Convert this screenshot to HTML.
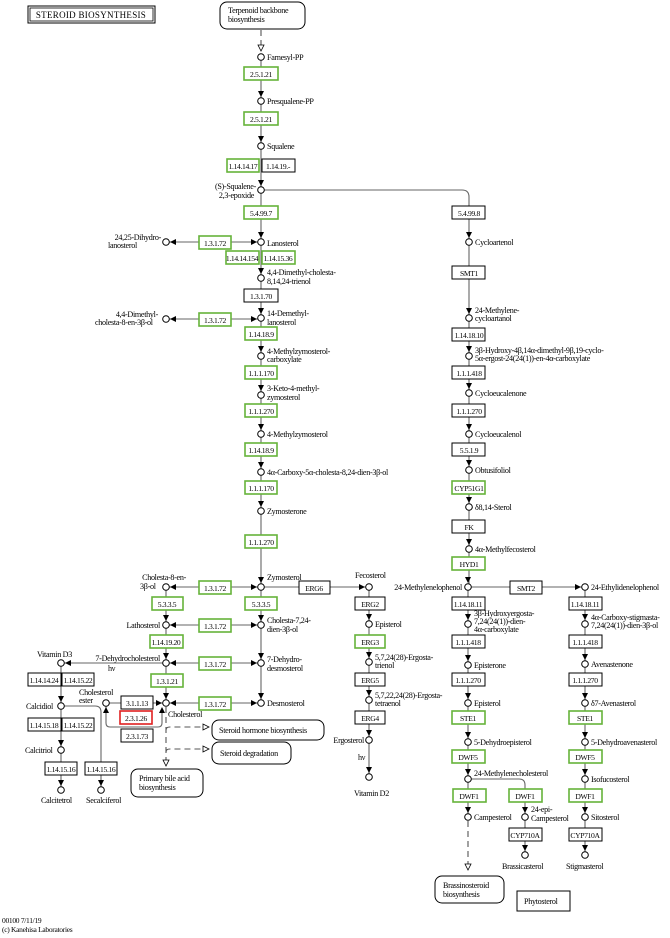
<!DOCTYPE html>
<html><head><meta charset="utf-8"><style>
html,body{margin:0;padding:0;background:#fff;}
svg{display:block}
text{font-family:"Liberation Serif",serif;font-size:8.1px;fill:#000;letter-spacing:-0.3px}
text.m{font-size:7.6px;letter-spacing:-0.35px;text-anchor:middle}
.b{fill:#fff;stroke:#000;stroke-width:1}
.g{fill:#fff;stroke:#66b33a;stroke-width:1.6}
.r{fill:#fff;stroke:#e02020;stroke-width:1.6}
.l{stroke:#666;stroke-width:1.1;fill:none}
.d{stroke:#555;stroke-width:1.1;fill:none;stroke-dasharray:6,4}
.c{fill:#fff;stroke:#000;stroke-width:1}
.rt{text-anchor:end}
</style></head><body>
<svg width="670" height="938" viewBox="0 0 670 938">
<defs>
<path id="td" d="M-3,-10 L3,-10 L0,-4Z" fill="#000"/>
<path id="tu" d="M-3,10 L3,10 L0,4Z" fill="#000"/>
<path id="tl" d="M10,-3 L10,3 L4,0Z" fill="#000"/>
<path id="tr" d="M-10,-3 L-10,3 L-4,0Z" fill="#000"/>
</defs>

<rect x="28" y="6" width="127" height="17" fill="#fff" stroke="#000" stroke-width="1"/>
<rect x="30" y="8" width="123" height="13" fill="none" stroke="#000" stroke-width="0.8"/>
<text x="91" y="18" style="font-size:9px;letter-spacing:0.3px;text-anchor:middle">STEROID BIOSYNTHESIS</text>
<rect x="220" y="2" width="85" height="27" rx="7" fill="#fff" stroke="#000"/>
<text x="228" y="13">Terpenoid backbone</text><text x="228" y="22">biosynthesis</text>

<path class="d" d="M261,30 V46"/>
<path d="M258,45 L264,45 L261,51Z" fill="#fff" stroke="#000" stroke-width="0.8"/>
<path class="l" d="M261,54 V703"/>
<path class="l" d="M261,190 H462 Q469,190 469,197 V470"/>
<path class="l" d="M469,470 V587"/>
<path class="l" d="M166,242 H261 M166,319 H261"/>
<path class="l" d="M166,587 H369 M166,625 H261 M166,663 H261 M166,703 H261 M61,663 H166"/>
<path class="l" d="M166,587 V703"/>
<path class="l" d="M106,703 H166 M106,706 V723 Q106,727 110,727 H158 Q162,727 162,723 V708"/>
<path class="l" d="M61,663 V790 M61,706 H95 Q101,706 101,712 V790"/>
<path class="l" d="M369,587 V777 M468,587 H585 M468,587 V817 M585,587 V855"/>
<path class="l" d="M468,779 H519 Q525,779 525,785 V855"/>
<path class="d" d="M468,821 V866 M166,707 V762"/>
<path d="M465,864 L471,864 L468,870Z" fill="#fff" stroke="#000" stroke-width="0.8"/>
<path d="M163,760 L169,760 L166,766Z" fill="#fff" stroke="#000" stroke-width="0.8"/>
<path class="d" d="M166,730 Q166,727 170,727 H204 M166,752 Q166,749 170,749 H204"/>
<path d="M203,724 L203,730 L209,727Z M203,746 L203,752 L209,749Z" fill="#fff" stroke="#000" stroke-width="0.8"/>

<g>
<use href="#td" x="261" y="101"/><use href="#td" x="261" y="146"/><use href="#td" x="261" y="190"/><use href="#td" x="261" y="242"/><use href="#td" x="261" y="278"/><use href="#td" x="261" y="318"/><use href="#td" x="261" y="356"/><use href="#td" x="261" y="395"/><use href="#td" x="261" y="434"/><use href="#td" x="261" y="472"/><use href="#td" x="261" y="511"/><use href="#td" x="261" y="587"/><use href="#td" x="261" y="625"/><use href="#td" x="261" y="663"/><use href="#td" x="261" y="703"/>
<use href="#tr" x="261" y="242"/><use href="#tl" x="166" y="242"/><use href="#tr" x="261" y="319"/><use href="#tl" x="166" y="319"/>
<use href="#tl" x="166" y="587"/><use href="#tr" x="261" y="587"/><use href="#tl" x="166" y="625"/><use href="#tr" x="261" y="625"/><use href="#tl" x="166" y="663"/><use href="#tr" x="261" y="663"/><use href="#tl" x="166" y="703"/><use href="#tr" x="261" y="703"/>
<use href="#td" x="166" y="625"/><use href="#td" x="166" y="663"/><use href="#td" x="166" y="703"/><use href="#tl" x="61" y="663"/>
<use href="#tr" x="166" y="703"/><use href="#tu" x="106" y="703"/><use href="#tu" x="162" y="703"/>
<use href="#td" x="61" y="706"/><use href="#td" x="61" y="750"/><use href="#td" x="61" y="790"/><use href="#td" x="101" y="790"/>
<use href="#tr" x="369" y="587"/><use href="#td" x="369" y="624"/><use href="#td" x="369" y="662"/><use href="#td" x="369" y="700"/><use href="#td" x="369" y="740"/><use href="#td" x="369" y="777"/>
<use href="#td" x="469" y="242"/><use href="#td" x="469" y="318"/><use href="#td" x="469" y="356"/><use href="#td" x="469" y="393"/><use href="#td" x="469" y="434"/><use href="#td" x="469" y="470"/><use href="#td" x="469" y="507"/><use href="#td" x="469" y="549"/><use href="#td" x="468" y="587"/>
<use href="#td" x="468" y="624"/><use href="#td" x="468" y="665"/><use href="#td" x="468" y="703"/><use href="#td" x="468" y="742"/><use href="#td" x="468" y="779"/><use href="#td" x="468" y="817"/><use href="#td" x="525" y="817"/><use href="#td" x="525" y="855"/>
<use href="#tr" x="585" y="587"/><use href="#td" x="585" y="624"/><use href="#td" x="585" y="664"/><use href="#td" x="585" y="703"/><use href="#td" x="585" y="742"/><use href="#td" x="585" y="779"/><use href="#td" x="585" y="817"/><use href="#td" x="585" y="855"/>
</g>

<g class="c">
<circle cx="261" cy="57" r="3.3"/><circle cx="261" cy="101" r="3.3"/><circle cx="261" cy="146" r="3.3"/><circle cx="261" cy="190" r="3.3"/><circle cx="261" cy="242" r="3.3"/><circle cx="261" cy="278" r="3.3"/><circle cx="261" cy="318" r="3.3"/><circle cx="261" cy="356" r="3.3"/><circle cx="261" cy="395" r="3.3"/><circle cx="261" cy="434" r="3.3"/><circle cx="261" cy="472" r="3.3"/><circle cx="261" cy="511" r="3.3"/><circle cx="261" cy="587" r="3.3"/><circle cx="261" cy="625" r="3.3"/><circle cx="261" cy="663" r="3.3"/><circle cx="261" cy="703" r="3.3"/>
<circle cx="166" cy="242" r="3.3"/><circle cx="166" cy="319" r="3.3"/>
<circle cx="166" cy="587" r="3.3"/><circle cx="166" cy="625" r="3.3"/><circle cx="166" cy="663" r="3.3"/><circle cx="166" cy="703" r="3.3"/><circle cx="106" cy="703" r="3.3"/><circle cx="61" cy="663" r="3.3"/><circle cx="61" cy="706" r="3.3"/><circle cx="61" cy="750" r="3.3"/><circle cx="61" cy="790" r="3.3"/><circle cx="101" cy="790" r="3.3"/>
<circle cx="369" cy="587" r="3.3"/><circle cx="369" cy="624" r="3.3"/><circle cx="369" cy="662" r="3.3"/><circle cx="369" cy="700" r="3.3"/><circle cx="369" cy="740" r="3.3"/><circle cx="369" cy="777" r="3.3"/>
<circle cx="469" cy="242" r="3.3"/><circle cx="469" cy="318" r="3.3"/><circle cx="469" cy="356" r="3.3"/><circle cx="469" cy="393" r="3.3"/><circle cx="469" cy="434" r="3.3"/><circle cx="469" cy="470" r="3.3"/><circle cx="469" cy="507" r="3.3"/><circle cx="469" cy="549" r="3.3"/><circle cx="468" cy="587" r="3.3"/>
<circle cx="468" cy="624" r="3.3"/><circle cx="468" cy="665" r="3.3"/><circle cx="468" cy="703" r="3.3"/><circle cx="468" cy="742" r="3.3"/><circle cx="468" cy="779" r="3.3"/><circle cx="468" cy="817" r="3.3"/><circle cx="525" cy="817" r="3.3"/><circle cx="525" cy="855" r="3.3"/>
<circle cx="585" cy="587" r="3.3"/><circle cx="585" cy="624" r="3.3"/><circle cx="585" cy="664" r="3.3"/><circle cx="585" cy="703" r="3.3"/><circle cx="585" cy="742" r="3.3"/><circle cx="585" cy="779" r="3.3"/><circle cx="585" cy="817" r="3.3"/><circle cx="585" cy="855" r="3.3"/>
</g>

<g>
<rect class="g" x="244" y="67" width="34" height="13"/><text class="m" x="261" y="77">2.5.1.21</text>
<rect class="g" x="244" y="112" width="34" height="13"/><text class="m" x="261" y="122">2.5.1.21</text>
<rect class="g" x="227" y="159" width="32" height="13"/><text class="m" x="243" y="169">1.14.14.17</text>
<rect class="b" x="262" y="159" width="33" height="13"/><text class="m" x="278" y="169">1.14.19.-</text>
<rect class="g" x="244" y="206" width="34" height="13"/><text class="m" x="261" y="216">5.4.99.7</text>
<rect class="g" x="199" y="236" width="32" height="13"/><text class="m" x="215" y="246">1.3.1.72</text>
<rect class="g" x="226" y="251" width="33" height="13"/><text class="m" x="242" y="261">1.14.14.154</text>
<rect class="g" x="262" y="251" width="33" height="13"/><text class="m" x="278" y="261">1.14.15.36</text>
<rect class="b" x="244" y="289" width="34" height="13"/><text class="m" x="261" y="299">1.3.1.70</text>
<rect class="g" x="199" y="313" width="32" height="13"/><text class="m" x="215" y="323">1.3.1.72</text>
<rect class="g" x="245" y="327" width="32" height="13"/><text class="m" x="261" y="337">1.14.18.9</text>
<rect class="g" x="245" y="366" width="32" height="13"/><text class="m" x="261" y="376">1.1.1.170</text>
<rect class="g" x="245" y="404" width="32" height="13"/><text class="m" x="261" y="414">1.1.1.270</text>
<rect class="g" x="245" y="443" width="32" height="13"/><text class="m" x="261" y="453">1.14.18.9</text>
<rect class="g" x="245" y="481" width="32" height="13"/><text class="m" x="261" y="491">1.1.1.170</text>
<rect class="g" x="245" y="535" width="32" height="13"/><text class="m" x="261" y="545">1.1.1.270</text>

<rect class="g" x="199" y="581" width="32" height="13"/><text class="m" x="215" y="591">1.3.1.72</text>
<rect class="b" x="299" y="581" width="31" height="13"/><text class="m" x="314" y="591">ERG6</text>
<rect class="g" x="152" y="597" width="31" height="13"/><text class="m" x="167" y="607">5.3.3.5</text>
<rect class="g" x="245" y="597" width="32" height="13"/><text class="m" x="261" y="607">5.3.3.5</text>
<rect class="g" x="199" y="619" width="32" height="13"/><text class="m" x="215" y="629">1.3.1.72</text>
<rect class="g" x="150" y="635" width="33" height="13"/><text class="m" x="166" y="645">1.14.19.20</text>
<rect class="g" x="199" y="657" width="32" height="13"/><text class="m" x="215" y="667">1.3.1.72</text>
<rect class="g" x="151" y="674" width="32" height="13"/><text class="m" x="167" y="684">1.3.1.21</text>
<rect class="g" x="199" y="697" width="32" height="13"/><text class="m" x="215" y="707">1.3.1.72</text>
<rect class="b" x="121" y="696" width="32" height="13"/><text class="m" x="137" y="706">3.1.1.13</text>
<rect class="r" x="120" y="711" width="32" height="13"/><text class="m" x="136" y="721">2.3.1.26</text>
<rect class="b" x="121" y="729" width="32" height="13"/><text class="m" x="137" y="739">2.3.1.73</text>
<rect class="b" x="28" y="673" width="33" height="13"/><text class="m" x="44" y="683">1.14.14.24</text>
<rect class="b" x="62" y="673" width="32" height="13"/><text class="m" x="78" y="683">1.14.15.22</text>
<rect class="b" x="28" y="718" width="33" height="13"/><text class="m" x="44" y="728">1.14.15.18</text>
<rect class="b" x="62" y="718" width="32" height="13"/><text class="m" x="78" y="728">1.14.15.22</text>
<rect class="b" x="45" y="762" width="32" height="13"/><text class="m" x="61" y="772">1.14.15.16</text>
<rect class="b" x="85" y="762" width="32" height="13"/><text class="m" x="101" y="772">1.14.15.16</text>

<rect class="b" x="355" y="597" width="30" height="13"/><text class="m" x="370" y="607">ERG2</text>
<rect class="g" x="355" y="635" width="30" height="13"/><text class="m" x="370" y="645">ERG3</text>
<rect class="b" x="355" y="673" width="30" height="13"/><text class="m" x="370" y="683">ERG5</text>
<rect class="b" x="355" y="711" width="30" height="13"/><text class="m" x="370" y="721">ERG4</text>

<rect class="b" x="452" y="206" width="33" height="13"/><text class="m" x="469" y="216">5.4.99.8</text>
<rect class="b" x="452" y="266" width="33" height="13"/><text class="m" x="469" y="276">SMT1</text>
<rect class="b" x="452" y="328" width="33" height="13"/><text class="m" x="469" y="338">1.14.18.10</text>
<rect class="b" x="452" y="366" width="33" height="13"/><text class="m" x="469" y="376">1.1.1.418</text>
<rect class="b" x="452" y="404" width="33" height="13"/><text class="m" x="469" y="414">1.1.1.270</text>
<rect class="b" x="452" y="443" width="33" height="13"/><text class="m" x="469" y="453">5.5.1.9</text>
<rect class="g" x="452" y="481" width="33" height="13"/><text class="m" x="469" y="491">CYP51G1</text>
<rect class="b" x="452" y="520" width="33" height="13"/><text class="m" x="469" y="530">FK</text>
<rect class="g" x="452" y="557" width="33" height="13"/><text class="m" x="469" y="567">HYD1</text>
<rect class="b" x="510" y="581" width="32" height="13"/><text class="m" x="526" y="591">SMT2</text>

<rect class="b" x="452" y="597" width="33" height="13"/><text class="m" x="468" y="607">1.14.18.11</text>
<rect class="b" x="452" y="635" width="33" height="13"/><text class="m" x="468" y="645">1.1.1.418</text>
<rect class="b" x="452" y="673" width="33" height="13"/><text class="m" x="468" y="683">1.1.1.270</text>
<rect class="g" x="452" y="711" width="33" height="13"/><text class="m" x="468" y="721">STE1</text>
<rect class="g" x="452" y="750" width="33" height="13"/><text class="m" x="468" y="760">DWF5</text>
<rect class="g" x="453" y="789" width="33" height="13"/><text class="m" x="469" y="799">DWF1</text>
<rect class="g" x="509" y="789" width="33" height="13"/><text class="m" x="525" y="799">DWF1</text>
<rect class="b" x="509" y="828" width="33" height="13"/><text class="m" x="525" y="838">CYP710A</text>

<rect class="b" x="569" y="597" width="33" height="13"/><text class="m" x="585" y="607">1.14.18.11</text>
<rect class="b" x="569" y="635" width="33" height="13"/><text class="m" x="585" y="645">1.1.1.418</text>
<rect class="b" x="569" y="673" width="33" height="13"/><text class="m" x="585" y="683">1.1.1.270</text>
<rect class="g" x="569" y="711" width="33" height="13"/><text class="m" x="585" y="721">STE1</text>
<rect class="g" x="569" y="750" width="33" height="13"/><text class="m" x="585" y="760">DWF5</text>
<rect class="g" x="569" y="789" width="33" height="13"/><text class="m" x="585" y="799">DWF1</text>
<rect class="b" x="569" y="828" width="33" height="13"/><text class="m" x="585" y="838">CYP710A</text>
</g>

<rect x="212" y="720" width="112" height="20" rx="7" fill="#fff" stroke="#000"/><text x="219" y="733">Steroid hormone biosynthesis</text>
<rect x="212" y="742" width="79" height="22" rx="7" fill="#fff" stroke="#000"/><text x="220" y="756">Steroid degradation</text>
<rect x="131" y="769" width="72" height="28" rx="7" fill="#fff" stroke="#000"/><text x="139" y="781">Primary bile acid</text><text x="139" y="790">biosynthesis</text>
<rect x="435" y="876" width="69" height="27" rx="7" fill="#fff" stroke="#000"/><text x="443" y="888">Brassinosteroid</text><text x="443" y="897">biosynthesis</text>
<rect x="517" y="891" width="53" height="20" fill="#fff" stroke="#000"/><text x="524" y="904">Phytosterol</text>

<g>
<text x="267" y="60">Farnesyl-PP</text>
<text x="267" y="104">Presqualene-PP</text>
<text x="267" y="149">Squalene</text>
<text class="rt" x="256" y="189">(S)-Squalene-</text><text class="rt" x="254" y="198">2,3-epoxide</text>
<text x="267" y="246">Lanosterol</text>
<text class="rt" x="161" y="240">24,25-Dihydro-</text><text x="108" y="248">lanosterol</text>
<text x="267" y="275">4,4-Dimethyl-cholesta-</text><text x="267" y="284">8,14,24-trienol</text>
<text x="267" y="316">14-Demethyl-</text><text x="267" y="325">lanosterol</text>
<text class="rt" x="158" y="317">4,4-Dimethyl-</text><text x="95" y="325">cholesta-8-en-3β-ol</text>
<text x="267" y="354">4-Methylzymosterol-</text><text x="267" y="362">carboxylate</text>
<text x="267" y="391">3-Keto-4-methyl-</text><text x="267" y="400">zymosterol</text>
<text x="267" y="437">4-Methylzymosterol</text>
<text x="267" y="475">4α-Carboxy-5α-cholesta-8,24-dien-3β-ol</text>
<text x="267" y="514">Zymosterone</text>
<text x="267" y="580">Zymosterol</text>
<text class="rt" x="186" y="580">Cholesta-8-en-</text><text x="140" y="589">3β-ol</text>
<text class="rt" x="160" y="628">Lathosterol</text>
<text x="267" y="623">Cholesta-7,24-</text><text x="267" y="632">dien-3β-ol</text>
<text class="rt" x="160" y="661">7-Dehydrocholesterol</text><text x="108" y="671">hν</text>
<text x="267" y="662">7-Dehydro-</text><text x="267" y="671">desmosterol</text>
<text x="267" y="706">Desmosterol</text>
<text x="168" y="717">Cholesterol</text>
<text x="79" y="695">Cholesterol</text><text x="79" y="703">ester</text>
<text x="37" y="657">Vitamin D3</text>
<text x="26" y="709">Calcidiol</text>
<text x="25" y="753">Calcitriol</text>
<text x="41" y="803">Calcitetrol</text>
<text x="86" y="803">Secalciferol</text>
<text x="355" y="578">Fecosterol</text>
<text x="375" y="627">Episterol</text>
<text x="375" y="660">5,7,24(28)-Ergosta-</text><text x="375" y="668">trienol</text>
<text x="375" y="698">5,7,22,24(28)-Ergosta-</text><text x="375" y="706">tetraenol</text>
<text class="rt" x="364" y="743">Ergosterol</text><text x="358" y="760">hν</text>
<text x="354" y="796">Vitamin D2</text>
<text x="475" y="245">Cycloartenol</text>
<text x="475" y="313">24-Methylene-</text><text x="475" y="321">cycloartanol</text>
<text x="475" y="353">3β-Hydroxy-4β,14α-dimethyl-9β,19-cyclo-</text><text x="475" y="361">5α-ergost-24(24(1))-en-4α-carboxylate</text>
<text x="475" y="396">Cycloeucalenone</text>
<text x="475" y="437">Cycloeucalenol</text>
<text x="475" y="473">Obtusifoliol</text>
<text x="475" y="510">δ8,14-Sterol</text>
<text x="475" y="552">4α-Methylfecosterol</text>
<text class="rt" x="462" y="590">24-Methylenelophenol</text>
<text x="591" y="590">24-Ethylidenelophenol</text>
<text x="474" y="616">3β-Hydroxyergosta-</text><text x="474" y="624">7,24(24(1))-dien-</text><text x="474" y="632">4α-carboxylate</text>
<text x="474" y="668">Episterone</text>
<text x="474" y="706">Episterol</text>
<text x="474" y="745">5-Dehydroepisterol</text>
<text x="474" y="776">24-Methylenecholesterol</text>
<text x="474" y="820">Campesterol</text>
<text x="531" y="812">24-epi-</text><text x="531" y="821">Campesterol</text>
<text x="502" y="869">Brassicasterol</text>
<text x="591" y="620">4α-Carboxy-stigmasta-</text><text x="591" y="628">7,24(24(1))-dien-3β-ol</text>
<text x="591" y="667">Avenastenone</text>
<text x="591" y="706">δ7-Avenasterol</text>
<text x="591" y="745">5-Dehydroavenasterol</text>
<text x="591" y="782">Isofucosterol</text>
<text x="591" y="820">Sitosterol</text>
<text x="566" y="869">Stigmasterol</text>
<text x="2" y="923" style="font-size:7.5px">00100 7/11/19</text>
<text x="2" y="932" style="font-size:7.5px">(c) Kanehisa Laboratories</text>
</g>
</svg>
</body></html>
